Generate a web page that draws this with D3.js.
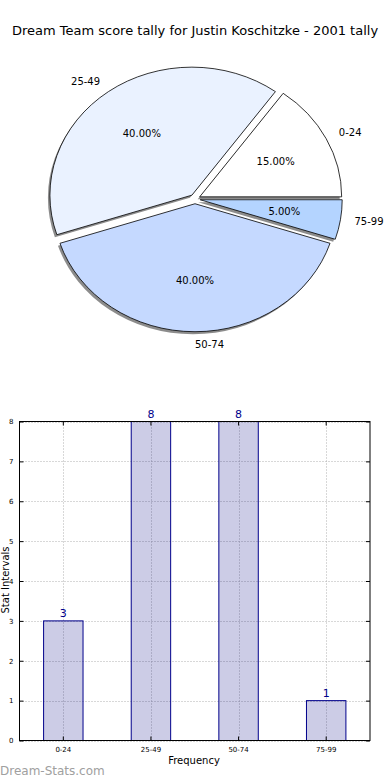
<!DOCTYPE html>
<html><head><meta charset="utf-8">
<script src="https://cdn.jsdelivr.net/npm/d3@7"></script>
<style>body{margin:0;background:#fff}svg{display:block;font-family:"DejaVu Sans",sans-serif}</style>
</head><body>
<svg id="c" width="390" height="780"></svg>
<script>
const categories = ["0-24", "25-49", "50-74", "75-99"];
const values = [3, 8, 8, 1];
const pieColors = ["#ffffff", "#eaf2ff", "#c5d9ff", "#b4d4ff"];
const yTicks = [0, 1, 2, 3, 4, 5, 6, 7, 8];
const titleText = "Dream Team score tally for Justin Koschitzke - 2001 tally";

const svg = d3.select("#c");
svg.append("text").attr("x", 195).attr("y", 35).attr("text-anchor", "middle")
  .attr("font-size", 13).text(titleText);

// ---- Pie (elliptical, exploded, with shadow) ----
const cx = 195, cy = 199, rx = 142, ry = 128, ex = 0.037;
const total = d3.sum(values);
const pie = d3.pie().sort(null).value(d => d).startAngle(Math.PI / 2).endAngle(Math.PI / 2 - 2 * Math.PI);
const arcs = pie(values);
const arcGen = d3.arc().innerRadius(0).outerRadius(1);
const pg = svg.append("g");
function off(d) {
  const a = (d.startAngle + d.endAngle) / 2;
  return [ex * rx * Math.sin(a), -ex * ry * Math.cos(a), a];
}
arcs.forEach(d => {
  const [dx, dy] = off(d);
  pg.append("path").attr("d", arcGen(d))
    .attr("transform", `translate(${cx + dx - 2},${cy + dy + 2.5}) scale(${rx},${ry})`)
    .attr("fill", "#000").attr("fill-opacity", 0.45).attr("stroke", "none");
});
arcs.forEach((d, i) => {
  const [dx, dy] = off(d);
  pg.append("path").attr("d", arcGen(d))
    .attr("transform", `translate(${cx + dx},${cy + dy}) scale(${rx},${ry})`)
    .attr("fill", pieColors[i]).attr("stroke", "#000").attr("stroke-width", 0.8)
    .attr("vector-effect", "non-scaling-stroke").attr("stroke-linejoin", "round");
});
arcs.forEach((d, i) => {
  const [dx, dy, a] = off(d);
  const sx = Math.sin(a), sy = -Math.cos(a);
  const lx = cx + dx + 1.1 * rx * sx, ly = cy + dy + 1.1 * ry * sy;
  pg.append("text").attr("x", lx).attr("y", ly).attr("dy", "0.35em")
    .attr("text-anchor", sx < -1e-6 ? "end" : "start").attr("font-size", 10).text(categories[i]);
  const px = cx + dx + 0.6 * rx * sx, py = cy + dy + 0.6 * ry * sy;
  pg.append("text").attr("x", px).attr("y", py).attr("dy", "0.35em")
    .attr("text-anchor", "middle").attr("font-size", 10)
    .text((values[i] / total * 100).toFixed(2) + "%");
});

// ---- Bar chart ----
const L = 19.5, R = 370, T = 421.5, B = 740.5;
const x = d3.scaleBand().domain(categories).range([L, R]).paddingInner(0.55).paddingOuter(0.275);
const y = d3.scaleLinear().domain([0, 8]).range([B, T]);
const bg = svg.append("g");
const grid = bg.append("g").attr("stroke", "#b0b0b0").attr("stroke-width", 1).attr("stroke-dasharray", "1,2");
yTicks.forEach(t => grid.append("line").attr("x1", L).attr("x2", R).attr("y1", Math.round(y(t)) + 0.5).attr("y2", Math.round(y(t)) + 0.5));
categories.forEach(c => {
  const xc = Math.round(x(c) + x.bandwidth() / 2) + 0.5;
  grid.append("line").attr("x1", xc).attr("x2", xc).attr("y1", T).attr("y2", B);
});
bg.selectAll("rect.bar").data(values).join("rect").attr("class", "bar")
  .attr("x", (d, i) => x(categories[i])).attr("width", x.bandwidth())
  .attr("y", d => y(d)).attr("height", d => B - y(d))
  .attr("fill", "rgba(0,0,128,0.2)").attr("stroke", "#00008b").attr("stroke-width", 1);
bg.selectAll("text.val").data(values).join("text").attr("class", "val")
  .attr("x", (d, i) => x(categories[i]) + x.bandwidth() / 2).attr("y", d => y(d) - 4)
  .attr("text-anchor", "middle").attr("font-size", 11).attr("fill", "#00008b").text(d => d);
bg.append("rect").attr("x", L).attr("y", T).attr("width", R - L).attr("height", B - T)
  .attr("fill", "none").attr("stroke", "#000").attr("stroke-width", 1);
const yAxis = d3.axisLeft(y).tickValues(yTicks).tickSize(-4).tickPadding(6);
const ya = bg.append("g").attr("transform", `translate(${L},0)`).call(yAxis);
ya.select(".domain").remove();
ya.selectAll("text").attr("font-size", 7).attr("font-family", "DejaVu Sans");
const yr = bg.append("g").attr("transform", `translate(${R},0)`).call(d3.axisRight(y).tickValues(yTicks).tickSize(-4).tickFormat(""));
yr.select(".domain").remove();
const xAxis = d3.axisBottom(x).tickSize(-4).tickPadding(7);
const xa = bg.append("g").attr("transform", `translate(0,${B})`).call(xAxis);
xa.select(".domain").remove();
xa.selectAll("text").attr("font-size", 7).attr("font-family", "DejaVu Sans");
const xt = bg.append("g").attr("transform", `translate(0,${T})`).call(d3.axisTop(x).tickSize(-4).tickFormat(""));
xt.select(".domain").remove();

bg.append("text").attr("x", 194).attr("y", 764).attr("text-anchor", "middle").attr("font-size", 10).text("Frequency");
bg.append("text").attr("transform", "translate(8.5,580) rotate(-90)").attr("text-anchor", "middle")
  .attr("font-size", 10).text("Stat Intervals");
svg.append("text").attr("x", 0).attr("y", 775).attr("font-size", 12)
  .attr("fill", "#a0a0a0").text("Dream-Stats.com");
</script>
</body></html>
